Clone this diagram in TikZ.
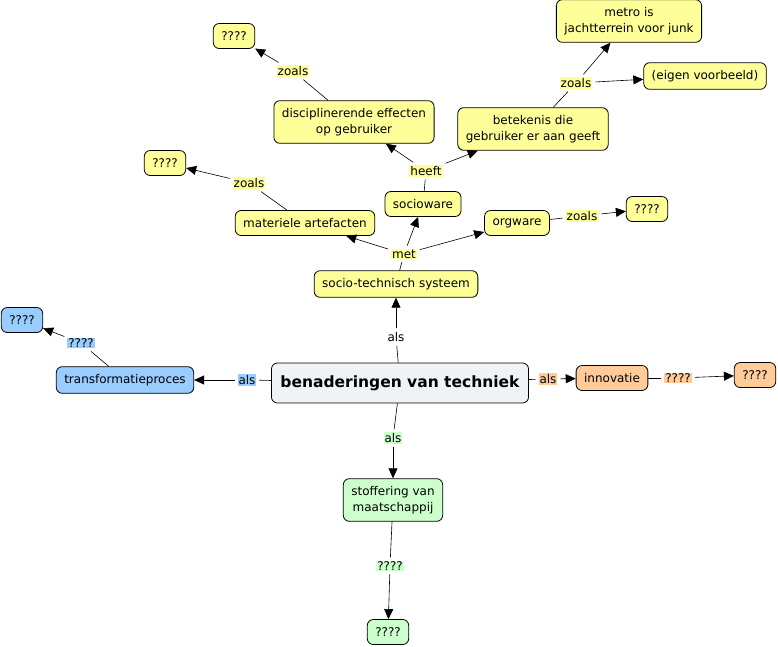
\documentclass[tikz,border=0pt]{standalone}
\usepackage{fontspec}
\setmainfont{DejaVu Sans}
\usetikzlibrary{arrows.meta}
\definecolor{cmyellow}{HTML}{FFFF99}
\definecolor{cmblue}{HTML}{99CCFF}
\definecolor{cmorange}{HTML}{FFCC99}
\definecolor{cmgreen}{HTML}{CCFFCC}
\definecolor{cmgrey}{HTML}{EEF4F6}
\begin{document}
\begin{tikzpicture}[x=1pt, y=-1pt,
    concept/.style={draw, rounded corners=6pt, line width=0.8pt, align=center,
      font=\fontsize{12}{16}\selectfont, inner xsep=8pt, inner ysep=7.5pt,
      minimum height=25pt},
    phrase/.style={inner sep=1pt, outer sep=3pt, font=\fontsize{12}{14}\selectfont},
    to/.style={-{Triangle[length=10pt,width=9pt]}, line width=0.6pt},
    every path/.style={line width=0.6pt}]
  \useasboundingbox (0,0) rectangle (778,646);

  % concepts
  \node [concept, fill=cmyellow] (q-top)   at (234, 36)  {????};
  \node [concept, fill=cmyellow] (metro)   at (629, 21)  {metro is\\jachtterrein voor junk};
  \node [concept, fill=cmyellow] (eigen)   at (705, 76)  {(eigen voorbeeld)};
  \node [concept, fill=cmyellow] (disc)    at (354, 122) {disciplinerende effecten\\op gebruiker};
  \node [concept, fill=cmyellow] (betek)   at (533, 129) {betekenis die\\gebruiker er aan geeft};
  \node [concept, fill=cmyellow] (q-mater) at (165, 163) {????};
  \node [concept, fill=cmyellow] (socio)   at (423, 204) {socioware};
  \node [concept, fill=cmyellow] (mater)   at (305, 223) {materiele artefacten};
  \node [concept, fill=cmyellow] (org)     at (517, 223) {orgware};
  \node [concept, fill=cmyellow] (q-org)   at (647, 209) {????};
  \node [concept, fill=cmyellow] (sts)     at (396, 284) {socio-technisch systeem};
  \node [concept, fill=cmblue]   (q-blue)  at (22, 320)  {????};
  \node [concept, fill=cmblue]   (trans)   at (125, 380) {transformatieproces};
  \node [concept, fill=cmgrey, minimum height=40pt, inner xsep=9pt,
         font=\fontsize{15.5}{18}\selectfont\bfseries] (main) at (400, 383) {benaderingen van techniek};
  \node [concept, fill=cmorange] (innov)   at (612, 378) {innovatie};
  \node [concept, fill=cmorange] (q-orange) at (755, 375) {????};
  \node [concept, fill=cmgreen]  (stoff)   at (393, 500) {stoffering van\\maatschappij};
  \node [concept, fill=cmgreen]  (q-green) at (388, 632) {????};

  % linking phrases
  \node [phrase, fill=cmyellow] (zoals-disc)  at (293, 71)  {zoals};
  \node [phrase, fill=cmyellow] (zoals-betek) at (576, 83)  {zoals};
  \node [phrase, fill=cmyellow] (zoals-mater) at (249, 183) {zoals};
  \node [phrase, fill=cmyellow] (heeft)       at (426, 171) {heeft};
  \node [phrase, fill=cmyellow] (met)         at (404, 254) {met};
  \node [phrase, fill=cmyellow] (zoals-org)   at (582, 216) {zoals};
  \node [phrase]                (als-sts)     at (396, 337) {als};
  \node [phrase, fill=cmblue]   (als-trans)   at (247, 380) {als};
  \node [phrase, fill=cmblue]   (qq-trans)    at (81, 343)  {????};
  \node [phrase, fill=cmorange] (als-innov)   at (548, 379) {als};
  \node [phrase, fill=cmorange] (qq-innov)    at (678, 378) {????};
  \node [phrase, fill=cmgreen]  (als-stoff)   at (393, 438) {als};
  \node [phrase, fill=cmgreen]  (qq-stoff)    at (390, 566) {????};

  % connections
  \draw (disc) -- (zoals-disc);
  \draw [to] (zoals-disc) -- (q-top);
  \draw (betek) -- (zoals-betek);
  \draw [to] (zoals-betek) -- (metro);
  \draw [to] (zoals-betek) -- (eigen);
  \draw (mater) -- (zoals-mater);
  \draw [to] (zoals-mater) -- (q-mater);
  \draw (socio) -- (heeft);
  \draw [to] (heeft) -- (disc);
  \draw [to] (heeft) -- (betek);
  \draw (sts) -- (met);
  \draw [to] (met) -- (mater);
  \draw [to] (met) -- (socio);
  \draw [to] (met) -- (org);
  \draw (org) -- (zoals-org);
  \draw [to] (zoals-org) -- (q-org);
  \draw (main) -- (als-sts);
  \draw [to] (als-sts) -- (sts);
  \draw (main) -- (als-trans);
  \draw [to] (als-trans) -- (trans);
  \draw (trans) -- (qq-trans);
  \draw [to] (qq-trans) -- (q-blue);
  \draw (main) -- (als-innov);
  \draw [to] (als-innov) -- (innov);
  \draw (innov) -- (qq-innov);
  \draw [to] (qq-innov) -- (q-orange);
  \draw (main) -- (als-stoff);
  \draw [to] (als-stoff) -- (stoff);
  \draw (stoff) -- (qq-stoff);
  \draw [to] (qq-stoff) -- (q-green);
\end{tikzpicture}
\end{document}
